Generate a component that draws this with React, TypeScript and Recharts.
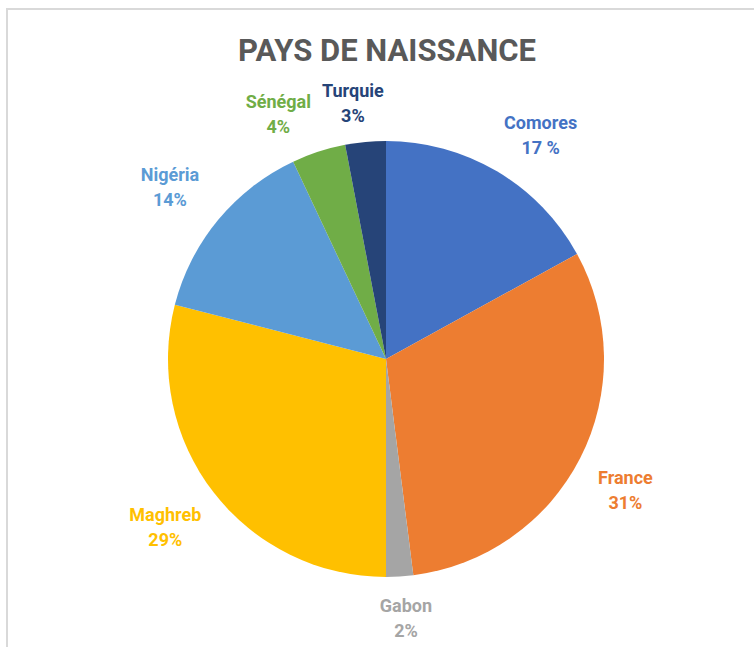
import React from "react";
import { PieChart, Pie, Cell } from "recharts";

const categories = ["Comores", "France", "Gabon", "Maghreb", "Nigéria", "Sénégal", "Turquie"];
const values = [17, 31, 2, 29, 14, 4, 3];
const percentLabels = ["17 %", "31%", "2%", "29%", "14%", "4%", "3%"];
const colors = ["#4472C4", "#ED7D31", "#A5A5A5", "#FFC000", "#5B9BD5", "#70AD47", "#264478"];

const data = categories.map((name, i) => ({ name, value: values[i], pct: percentLabels[i] }));

const RAD = Math.PI / 180;
const FONT = "Roboto, 'Open Sans', sans-serif";

const clamp = (v: number) => Math.max(-1, Math.min(1, v));

const renderLabel = (props: any) => {
  const { cx, cy, midAngle, outerRadius, index } = props;
  const name = categories[index];
  const pct = percentLabels[index];
  const s = Math.cos(-midAngle * RAD);
  const c = Math.sin(-midAngle * RAD);
  const w = Math.max(name.length, pct.length) * 10;
  const h = 46;
  const gap = 17;
  const R0 = outerRadius + gap;
  const x = cx + R0 * s + (w / 2) * clamp(s / 0.3);
  const y = cy + R0 * c + (h / 2) * clamp(c / 0.3);
  return (
    <text
      x={x}
      y={y}
      fill={colors[index]}
      textAnchor="middle"
      fontFamily={FONT}
      fontWeight={700}
      fontSize={18}
    >
      <tspan x={x} dy={-5}>{name}</tspan>
      <tspan x={x} dy={25}>{pct}</tspan>
    </text>
  );
};

export default function App() {
  return (
    <div style={{ position: "absolute", left: 0, top: 0, width: 754, height: 647, background: "#fff", overflow: "hidden" }}>
      <div
        style={{
          position: "absolute",
          left: 6,
          top: 8,
          width: 760,
          height: 660,
          borderTop: "2px solid #d9d9d9",
          borderLeft: "2px solid #d9d9d9",
        }}
      />
      <div
        style={{
          position: "absolute",
          left: 0,
          top: 31,
          width: 774,
          textAlign: "center",
          fontFamily: FONT,
          fontWeight: 700,
          fontSize: 31,
          color: "#595959",
          lineHeight: "40px",
        }}
      >
        PAYS DE NAISSANCE
      </div>
      <div style={{ position: "absolute", left: 0, top: 0 }}>
        <PieChart width={754} height={647} margin={{ top: 0, right: 0, bottom: 0, left: 0 }}>
          <Pie
            data={data}
            dataKey="value"
            nameKey="name"
            cx={386}
            cy={359}
            outerRadius={218}
            startAngle={90}
            endAngle={-270}
            stroke="none"
            label={renderLabel}
            labelLine={false}
            isAnimationActive={false}
          >
            {data.map((d, i) => (
              <Cell key={d.name} fill={colors[i]} />
            ))}
          </Pie>
        </PieChart>
      </div>
    </div>
  );
}
